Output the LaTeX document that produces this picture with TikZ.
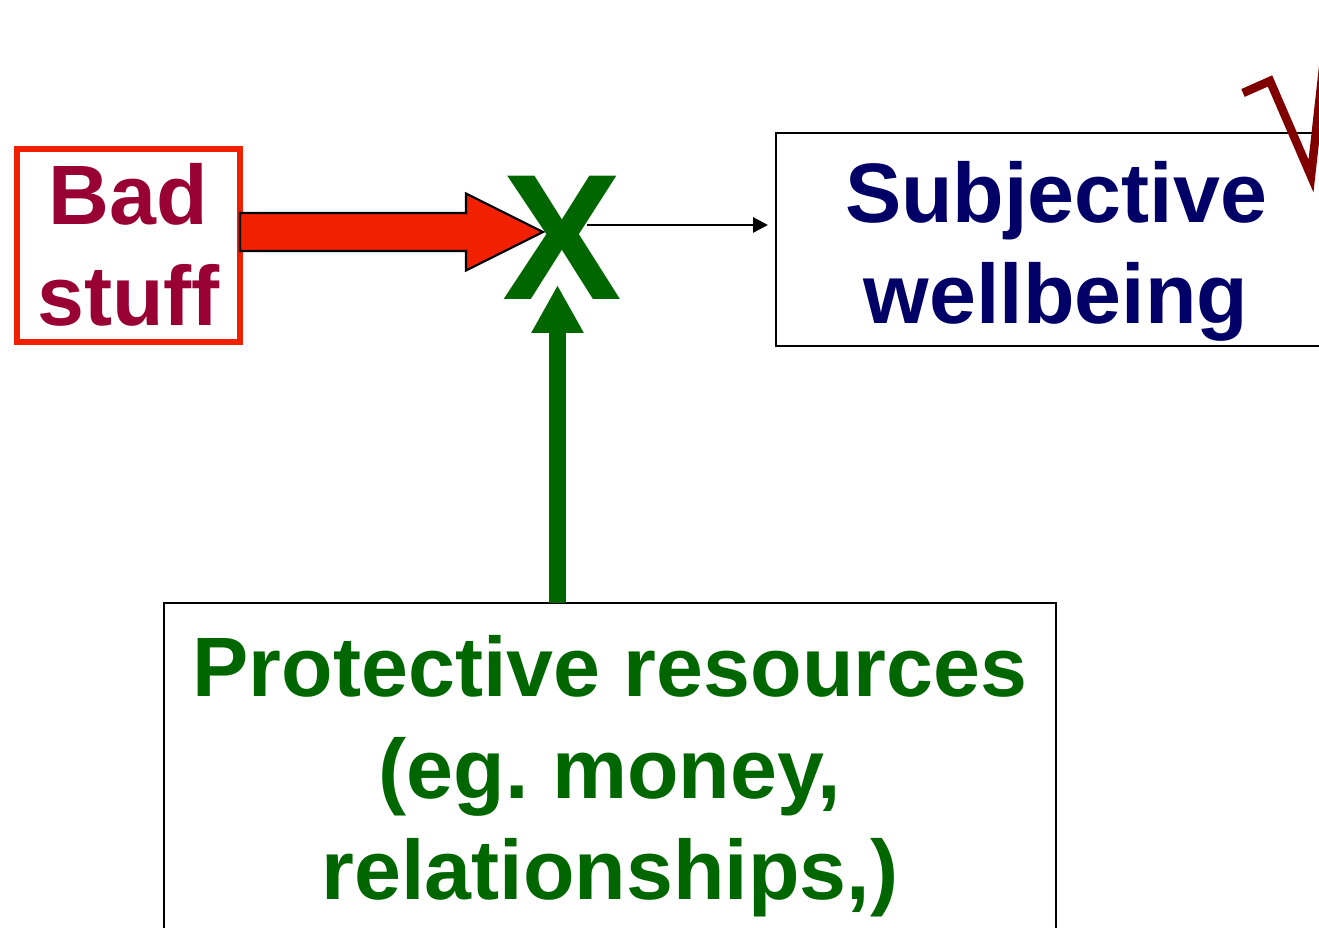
\documentclass[tikz,border=0pt]{standalone}
\usepackage{fontspec}
\setmainfont{Liberation Sans}
\usetikzlibrary{positioning,arrows.meta}

\definecolor{badred}{RGB}{240,32,0}
\definecolor{badtext}{RGB}{153,0,51}
\definecolor{wellblue}{RGB}{0,0,102}
\definecolor{protgreen}{RGB}{0,102,0}
\definecolor{tickred}{RGB}{128,0,0}

\begin{document}
\begin{tikzpicture}[
every node/.style={
align=center,
outer sep=0pt,
inner xsep=0pt,
inner ysep=0pt,
font=\fontsize{24}{29}\selectfont\bfseries
},
box/.style={draw, line width=0.8pt, anchor=north},
>={Triangle[length=0.15cm,width=0.15cm]}
]

\clip (0,0) rectangle (13.19,9.28);

\node[box, draw=badred, line width=0.06cm, text=badtext,
minimum width=2.23cm, text height=1.77cm, text depth=0.16cm]
(bad) at (1.285,7.79) {Bad\\stuff};

\node[box, text=wellblue, minimum width=5.6cm,
text height=1.91cm, text depth=0.22cm]
(swb) at (10.56,7.95) {Subjective\\wellbeing};

\node[box, text=protgreen, minimum width=8.92cm,
text height=2.97cm, text depth=0.6cm]
(prot) at (6.10,3.25) {Protective resources\\(eg.\ money,\\relationships,)};

\node[text=protgreen, anchor=base,
font=\fontsize{51}{51}\selectfont\bfseries] (cross) at (5.62,6.28) {X};

\coordinate (redtip) at (5.43,6.96);
\coordinate (xout) at (5.87,7.03);
\coordinate (gtip) at (5.575,6.43);

% block arrow into the X
\draw[fill=badred, line width=0.6pt, line join=miter]
(bad.east |- redtip) ++(0,0.19) -- ++(2.26,0) -- ++(0,0.195)
-- (redtip) -- ++(-0.77,-0.385) -- ++(0,0.195) -- ++(-2.26,0) -- cycle;

\draw[->, line width=0.8pt, shorten >=0.08cm] (xout) -- (xout -| swb.west);

% resources push up on the X
\draw[protgreen, line width=0.17cm,
-{Triangle[length=0.48cm,width=0.49cm]}] (gtip |- prot.north) -- (gtip);

% tick over the corner
\draw[tickred, line width=0.085cm, line join=miter]
(12.43,8.35) -- (12.70,8.47) -- (13.11,7.52) -- (13.34,9.58);

\end{tikzpicture}
\end{document}
